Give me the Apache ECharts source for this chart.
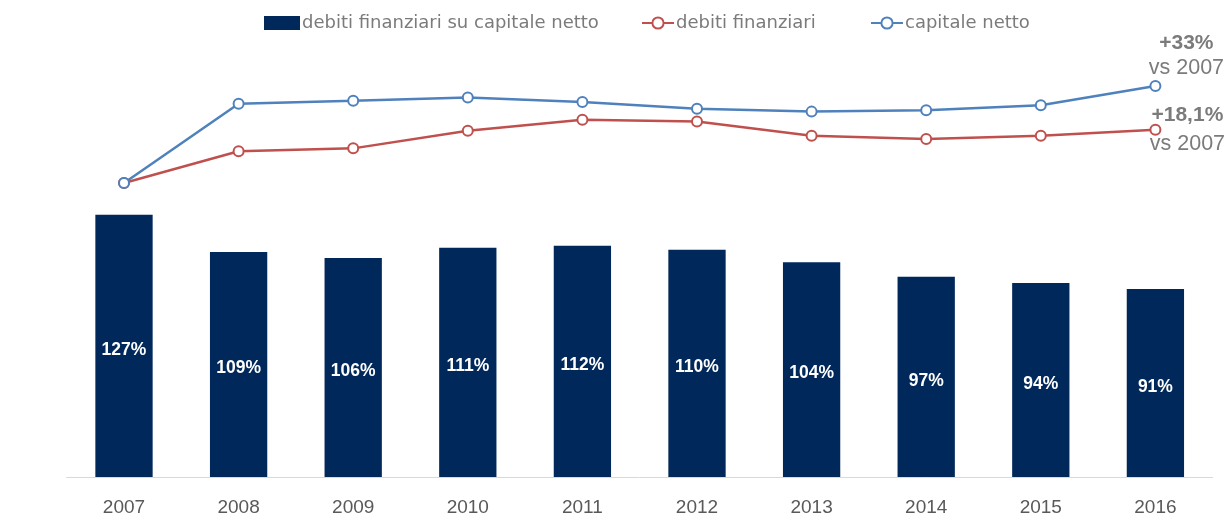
<!DOCTYPE html>
<html><head><meta charset="utf-8">
<script src="https://cdn.jsdelivr.net/npm/echarts@6/dist/echarts.min.js"></script>
<style>html,body{margin:0;padding:0;background:#fff}#c{width:1227px;height:522px}</style>
</head><body><div id="c"></div>
<script>
const years = ['2007','2008','2009','2010','2011','2012','2013','2014','2015','2016'];
const ratio = [127,109,106,111,112,110,104,97,94,91];
const debiti = [100,110.8,111.8,117.8,121.5,120.9,116.1,115.0,116.1,118.1];
const capitale = [100,127.0,128.0,129.1,127.6,125.3,124.3,124.8,126.5,133.0];
const seriesNames = ['debiti finanziari su capitale netto','debiti finanziari','capitale netto'];
const annoCapitale = ['+33%','vs 2007'];
const annoDebiti = ['+18,1%','vs 2007'];

const gray = '#7b7b7b';
function lastLabel(arr, anno, opts){
  return arr.map((v,i)=> i===arr.length-1 ? {value:v, label:Object.assign({
    show:true,
    formatter:'{b|'+anno[0]+'}\n{r|'+anno[1]+'}',
    align:'center',
    rich:{
      b:{fontFamily:'Liberation Sans',fontWeight:'bold',fontSize:21,color:gray,lineHeight:opts.lh,align:'center'},
      r:{fontFamily:'Liberation Sans',fontSize:21.5,color:gray,lineHeight:opts.lh,align:'center'}
    }
  }, opts.pos)} : v);
}
function legendFor(name, left, icon, w){
  const d = {name:name};
  if (icon) d.icon = icon;
  return {
    left:left, top:9,
    itemWidth:w, itemHeight:14,
    textStyle:{fontFamily:'DejaVu Sans',fontSize:18,color:gray,padding:[0,0,0,-3]},
    data:[d]
  };
}

const chart = echarts.init(document.getElementById('c'));
chart.setOption({
  animation:false,
  legend:[
    legendFor(seriesNames[0],259,'rect',36),
    legendFor(seriesNames[1],636,null,32),
    legendFor(seriesNames[2],865,null,32)
  ],
  grid:{left:66.7, right:14.3, top:64, bottom:45},
  xAxis:{
    type:'category', data:years,
    axisTick:{show:false},
    axisLine:{lineStyle:{color:'#d9d9d9',width:1}},
    axisLabel:{fontFamily:'Liberation Sans',fontSize:19,color:'#595959',margin:21}
  },
  yAxis:[
    {type:'value',min:0,max:200,show:false,splitLine:{show:false}},
    {type:'value',min:0,max:140.5,show:false,splitLine:{show:false}}
  ],
  series:[
    {name:seriesNames[0],type:'bar',yAxisIndex:0,data:ratio,barWidth:'50%',
     itemStyle:{color:'#00285a'},
     label:{show:true,position:'inside',offset:[0,4],formatter:'{c}%',color:'#fff',
       fontFamily:'Liberation Sans',fontWeight:'bold',fontSize:17.5}},
    {name:seriesNames[1],type:'line',yAxisIndex:1,
     data:lastLabel(debiti,annoDebiti,{lh:29,pos:{position:'inside',offset:[32,0]}}),
     symbol:'emptyCircle',symbolSize:10,
     lineStyle:{color:'#c0504d',width:2.5},
     itemStyle:{color:'#c0504d',borderWidth:1.5}},
    {name:seriesNames[2],type:'line',yAxisIndex:1,
     data:lastLabel(capitale,annoCapitale,{lh:25,pos:{position:'top',distance:6,offset:[31,7]}}),
     symbol:'emptyCircle',symbolSize:10,
     lineStyle:{color:'#4f81bd',width:2.5},
     itemStyle:{color:'#4f81bd',borderWidth:1.5}}
  ]
});
</script></body></html>
